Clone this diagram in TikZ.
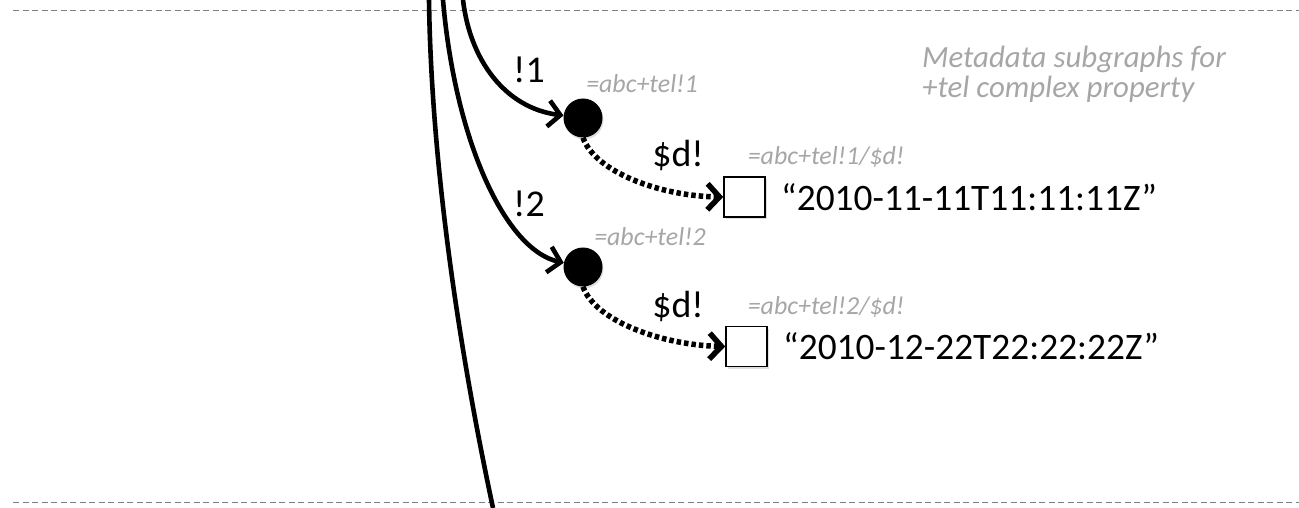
\documentclass[tikz,border=0pt]{standalone}
\usepackage{fontspec}
\setmainfont{Carlito}
\usetikzlibrary{arrows.meta,shadows}
\definecolor{lightgrey}{HTML}{A6A6A6}
\definecolor{dashgrey}{HTML}{808080}
\begin{document}
\begin{tikzpicture}[x=1bp,y=-1bp,
  sep/.style={draw=dashgrey, line width=1.2bp, dash pattern=on 6bp off 3.5bp},
  solidedge/.style={line width=4.6bp, -{Straight Barb[length=12bp,width=26bp]}},
  dotedge/.style={line width=5.5bp, dash pattern=on 4.5bp off 3bp, -{Straight Barb[length=12bp,width=26bp]}},
  dot/.style={circle, fill=black, minimum size=39bp, inner sep=0pt,
    drop shadow={opacity=0.25, shadow xshift=1bp, shadow yshift=-2bp}},
  valbox/.style={rectangle, draw=black, line width=1.6bp, fill=white, minimum width=41bp, minimum height=40bp, inner sep=0pt,
    drop shadow={opacity=0.25, shadow xshift=1.5bp, shadow yshift=-2.5bp}},
  lbl/.style={font=\fontsize{38}{44}\selectfont, inner sep=0pt},
  path/.style={font=\itshape\fontsize{26}{30}\selectfont, text=lightgrey, inner sep=0pt},
  note/.style={font=\itshape\fontsize{31}{33}\selectfont, text=lightgrey, inner sep=0pt, anchor=base west},
  valtext/.style={font=\fontsize{37.5}{44}\selectfont, inner sep=0pt, anchor=west}]
\useasboundingbox (0,0) rectangle (1299,508);

% separators
\coordinate (s1a) at (13,10.5);
\coordinate (s1b) at (1299,10.5);
\coordinate (s2a) at (13,502.5);
\coordinate (s2b) at (1299,502.5);
\draw[sep] (s1a) -- (s1b);
\draw[sep] (s2a) -- (s2b);

% nodes
\node[dot] (n1) at (583,118) {};
\node[dot] (n2) at (583,267) {};
\node[valbox] (b1) at (744.5,197) {};
\node[valbox] (b2) at (746.5,346.5) {};

% incoming edges from above
\coordinate (tL) at (429,0);
\coordinate (bL) at (493,508);
\coordinate (tM) at (443,0);
\coordinate (tR) at (463,0);
\draw[line width=4.6bp] (tL) .. controls (431,150) and (455,330) .. (bL);
\draw[solidedge] (tM) .. controls (455,140) and (505,250) .. (n2);
\draw[solidedge] (tR) .. controls (470,60) and (505,108) .. (n1);

% dotted edges
\draw[dotedge] (n1.south) .. controls (595,172) and (660,196) .. (b1.west);
\draw[dotedge] (n2.south) .. controls (595,321) and (662,345) .. (b2.west);

% labels
\node[lbl] (l1) at (529,70) {!1};
\node[lbl] (l2) at (529,204) {!2};
\node[lbl] (d1) at (678,155) {\$d!};
\node[lbl] (d2) at (678,306) {\$d!};

\node[path] (p1) at (642,84) {=abc+tel!1};
\node[path] (p2) at (650,237) {=abc+tel!2};
\node[path] (p3) at (826,157) {=abc+tel!1/\$d!};
\node[path] (p4) at (826,307) {=abc+tel!2/\$d!};

\node[valtext] (v1) at (781,197) {“2010-11-11T11:11:11Z”};
\node[valtext] (v2) at (783,346) {“2010-12-22T22:22:22Z”};

\node[note] (t1) at (922,68) {Metadata subgraphs for};
\node[note] (t2) at (922,98) {+tel complex property};
\end{tikzpicture}
\end{document}
